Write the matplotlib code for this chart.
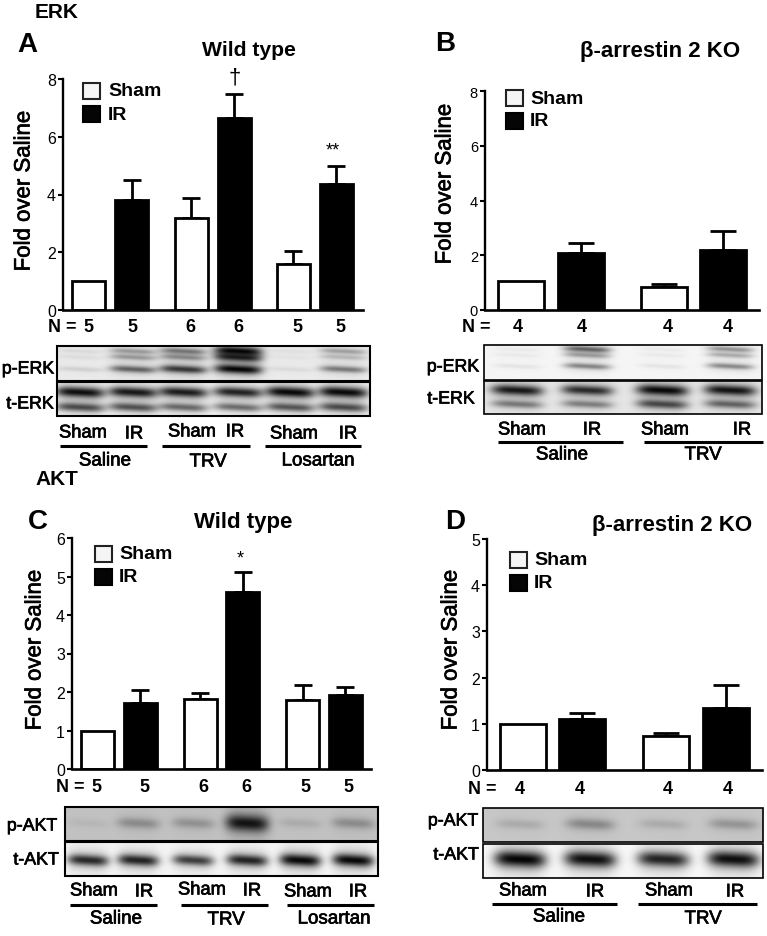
import numpy as np
import matplotlib
matplotlib.use("Agg")
from matplotlib import pyplot as plt
from matplotlib.patches import Rectangle
from matplotlib import patheffects as pe

W, H = 767, 937
plt.rcParams['font.family'] = ['Liberation Sans', 'DejaVu Sans']
THICKEN = [pe.withStroke(linewidth=0.5, foreground='k')]

# bar values, None = no error bar
a_mean = [1.0, 3.8, 3.2, 6.65, 1.6, 4.35]
a_top = [None, 4.5, 3.87, 7.47, 2.05, 4.98]
b_mean = [1.05, 2.1, 0.85, 2.2]
b_top = [None, 2.45, 0.95, 2.9]
c_mean = [1.0, 1.72, 1.82, 4.6, 1.8, 1.92]
c_top = [None, 2.05, 1.97, 5.12, 2.17, 2.13]
d_mean = [1.0, 1.1, 0.73, 1.35]
d_top = [None, 1.23, 0.8, 1.85]

n_six = ["5", "5", "6", "6", "5", "5"]
n_four = ["4", "4", "4", "4"]

# blot band darkness per lane (0 = nothing, 1 = black)
a_perk = [[.06, .30, .45, 1.0, .04, .28],
          [.05, .30, .35, .85, .03, .18],
          [.10, .55, .75, 1.0, .06, .45]]
a_terk = [[.95, .90, .88, .85, .98, .98],
          [.65, .62, .52, .50, .60, .65]]
b_perk = [[.04, .55, .04, .35],
          [.04, .30, .04, .25],
          [.06, .42, .06, .40]]
b_terk = [[.90, .80, .98, .92],
          [.42, .40, .65, .52]]
c_pakt = [[.05, .25, .22, .90, .10, .25]]
c_takt = [[.82, .85, .72, .85, .98, .98]]
d_pakt = [[.12, .28, .12, .22]]
d_takt = [[1.0, .95, .85, .95]]


def px_axes(fig, x0, x1, ytop, ybot):
    return fig.add_axes([x0 / W, 1 - ybot / H, (x1 - x0) / W, (ybot - ytop) / H])


def panel(fig, x0, x1, ytop, ybot, ymax, means, tops, xs, bw, ystep=1, tick_size=11.5):
    ax = px_axes(fig, x0, x1, ytop, ybot)
    ax.patch.set_alpha(0)
    ax.set_xlim(x0, x1)
    ax.set_ylim(0, ymax)
    cols = ['white', 'black'] * (len(means) // 2)
    ax.bar(xs, means, bw, color=cols, edgecolor='k', linewidth=2, zorder=2)
    for x, m, t in zip(xs, means, tops):
        if t is not None:
            ax.errorbar(x, m, yerr=[[0], [t - m]], color='k', lw=2,
                        capsize=bw * 0.2, capthick=2, zorder=1)
    ax.set_yticks(np.arange(0, ymax + 1, ystep))
    ax.set_xticks([])
    ax.tick_params(axis='y', width=1.5, length=3.6, labelsize=tick_size, pad=1.5)
    ax.spines['top'].set_visible(False)
    ax.spines['right'].set_visible(False)
    ax.spines['left'].set_linewidth(1.7)
    ax.spines['bottom'].set_linewidth(1.9)
    return ax


def blot(ov, x0, x1, y0, y1, bg, lanes, lane_w, rows, dark, thick, edge=1.5):
    xx, yy = np.meshgrid(np.arange(x0, x1, 0.5), np.arange(y0, y1, 0.5))
    img = np.full(xx.shape, bg, dtype=float)
    for yc, vals in zip(rows, dark):
        for xc, v in zip(lanes, vals):
            shape_x = np.exp(-((xx - xc) / (lane_w / 2)) ** 4)
            ysh = yc + 0.8 * np.sin((xx - xc) / lane_w * 3)
            t = thick * (0.65 + 0.7 * v)
            core = np.exp(-((yy - ysh) / t) ** 2)
            halo = np.exp(-((yy - ysh) / (2.4 * t)) ** 2)
            img = img * (1 - 0.98 * v * shape_x * core) * (1 - 0.22 * v * shape_x * halo)
    ov.imshow(img, cmap='gray', vmin=0, vmax=1, extent=[x0, x1, y1, y0],
              aspect='auto', interpolation='bilinear', zorder=1)
    ov.add_patch(Rectangle((x0, y0), x1 - x0, y1 - y0, fc='none', ec='k', lw=edge, zorder=2))


def legend(ov, x, y1, y2, tx):
    ov.add_patch(Rectangle((x, y1), 17, 16, fc='#f5f5f5', ec='#222222', lw=1.5))
    ov.add_patch(Rectangle((x, y2), 17, 16, fc='#050505', ec='k', lw=1.5))
    ov.text(tx, y1 + 8, "Sham", fontsize=14, fontweight='bold', va='center')
    ov.text(tx, y2 + 8, "IR", fontsize=14, fontweight='bold', va='center')


def label(ov, s, x, y, size=13.2):
    ov.text(x, y, s, fontsize=size, ha='center', va='center', path_effects=THICKEN)


def underline(ov, x0, x1, y):
    ov.plot([x0, x1], [y, y], color='k', lw=2.2, solid_capstyle='butt')


fig = plt.figure(figsize=(W / 100, H / 100), dpi=100)

a_x = [88.5, 131.5, 191, 234, 293, 336]
b_x = [521, 580.5, 664, 723]
c_x = [97.5, 140, 200, 242.5, 302.5, 345]
d_x = [522.5, 582, 666, 725.5]

panel(fig, 63, 363, 80, 311, 8, a_mean, a_top, a_x, 33, 2)
panel(fig, 485, 759, 92, 311, 8, b_mean, b_top, b_x, 46, 2, 10.5)
panel(fig, 72, 371, 539, 770, 6, c_mean, c_top, c_x, 33)
panel(fig, 487, 762, 540, 771, 5, d_mean, d_top, d_x, 46)

ov = fig.add_axes([0, 0, 1, 1], zorder=5)
ov.patch.set_alpha(0)
ov.axis('off')

# headings
ov.text(35, 13, "ERK", fontsize=15, fontweight='bold', va='center')
ov.text(17, 45, "A", fontsize=20, fontweight='bold', va='center')
ov.text(435, 44, "B", fontsize=20, fontweight='bold', va='center')
ov.text(35, 480, "AKT", fontsize=15, fontweight='bold', va='center')
ov.text(28, 522, "C", fontsize=20, fontweight='bold', va='center')
ov.text(445, 522, "D", fontsize=20, fontweight='bold', va='center')
ov.text(249, 51, "Wild type", fontsize=15.2, fontweight='bold', ha='center', va='center')
ov.text(660, 52, "β-arrestin 2 KO", fontsize=16, fontweight='bold', ha='center', va='center')
ov.text(243, 523, "Wild type", fontsize=16, fontweight='bold', ha='center', va='center')
ov.text(672, 526, "β-arrestin 2 KO", fontsize=16, fontweight='bold', ha='center', va='center')

# y labels
for x, y in [(24, 192), (445, 185), (35, 651), (451, 651)]:
    ov.text(x, y, "Fold over Saline", fontsize=16, rotation=90, ha='center', va='center',
            path_effects=THICKEN)

legend(ov, 83, 84, 107, 108)
legend(ov, 506, 91, 114, 530)
legend(ov, 95, 547, 570, 119)
legend(ov, 510, 553, 576, 534)

# significance marks
ov.text(235, 78, "†", fontsize=16, ha='center', va='center')
ov.text(333, 151, "**", fontsize=13, ha='center', va='center')
ov.text(240, 559, "*", fontsize=13, ha='center', va='center')

# N rows
ov.text(48, 328, "N =", fontsize=13, fontweight='bold', va='center')
for s, x in zip(n_six, [88, 132, 190, 238, 297, 340]):
    ov.text(x, 328, s, fontsize=13, fontweight='bold', ha='center', va='center')
ov.text(462, 328, "N =", fontsize=13, fontweight='bold', va='center')
for s, x in zip(n_four, [518, 582, 668, 728]):
    ov.text(x, 328, s, fontsize=13, fontweight='bold', ha='center', va='center')
ov.text(56, 788, "N =", fontsize=13, fontweight='bold', va='center')
for s, x in zip(n_six, [96, 144, 203, 246, 305, 348]):
    ov.text(x, 788, s, fontsize=13, fontweight='bold', ha='center', va='center')
ov.text(468, 790, "N =", fontsize=13, fontweight='bold', va='center')
for s, x in zip(n_four, [520, 580, 668, 728]):
    ov.text(x, 790, s, fontsize=13, fontweight='bold', ha='center', va='center')

# blots
a_l = [80, 133, 183, 238, 290, 343]
blot(ov, 57, 370, 347, 382, .92, a_l, 46, [352, 358, 370], a_perk, 3)
blot(ov, 57, 370, 383, 417, .95, a_l, 48, [393, 408], a_terk, 3.6)
b_l = [517, 587, 662, 730]
blot(ov, 484, 762, 346, 381, .96, b_l, 46, [350, 356, 367], b_perk, 2.8, 1.2)
blot(ov, 484, 762, 382, 415, .90, b_l, 50, [391, 405], b_terk, 3.6, 1.2)
c_l = [88, 138, 193, 247, 300, 353]
blot(ov, 65, 378, 808, 842, .76, c_l, 42, [824], c_pakt, 6)
blot(ov, 65, 378, 843, 877, .96, c_l, 40, [861], c_takt, 4.2)
d_l = [520, 590, 663, 733]
blot(ov, 483, 763, 809, 843, .78, d_l, 48, [825], d_pakt, 6, 1.2)
blot(ov, 483, 763, 845, 879, .97, d_l, 50, [860], d_takt, 5.5, 1.2)

# blot row names
for s, x, y in [("p-ERK", 28, 370), ("t-ERK", 30, 405), ("p-ERK", 453, 368), ("t-ERK", 451, 400),
                ("p-AKT", 32, 827), ("t-AKT", 36, 861), ("p-AKT", 453, 822), ("t-AKT", 456, 856)]:
    label(ov, s, x, y, 12.8)

# lane names under the blots
for s, x, y in [("Sham", 83, 434), ("IR", 134, 435), ("Sham", 192, 433), ("IR", 235, 433),
                ("Sham", 294, 435), ("IR", 348, 435),
                ("Sham", 522, 431), ("IR", 592, 431), ("Sham", 665, 431), ("IR", 742, 431),
                ("Sham", 94, 892), ("IR", 144, 893), ("Sham", 202, 891), ("IR", 252, 892),
                ("Sham", 308, 893), ("IR", 358, 893),
                ("Sham", 523, 892), ("IR", 595, 893), ("Sham", 669, 892), ("IR", 735, 893)]:
    label(ov, s, x, y)

for x0, x1, y in [(60, 147, 447), (162, 250, 447), (265, 361, 447),
                  (498, 623, 443), (644, 763, 443),
                  (70, 157, 906), (181, 268, 906), (287, 374, 906),
                  (492, 617, 905), (638, 757, 905)]:
    underline(ov, x0, x1, y)

for s, x, y in [("Saline", 105, 462), ("TRV", 208, 463), ("Losartan", 318, 462),
                ("Saline", 562, 456), ("TRV", 703, 456),
                ("Saline", 116, 920), ("TRV", 226, 921), ("Losartan", 334, 920),
                ("Saline", 559, 918), ("TRV", 703, 920)]:
    label(ov, s, x, y, 13.5)

ov.set_xlim(0, W)
ov.set_ylim(H, 0)

plt.savefig("out.png", dpi=100)
